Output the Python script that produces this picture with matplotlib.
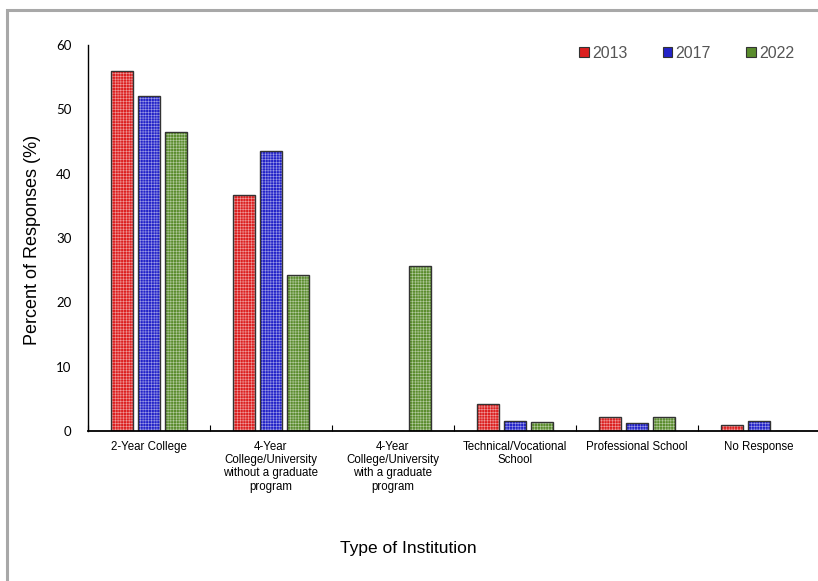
import matplotlib.pyplot as plt
import numpy as np
from matplotlib.patches import Rectangle, Patch

institutions = ['2-Year College',
                '4-Year\nCollege/University\nwithout a graduate\nprogram',
                '4-Year\nCollege/University\nwith a graduate\nprogram',
                'Technical/Vocational\nSchool',
                'Professional School',
                'No Response']
years = ['2013', '2017', '2022']
pct_2013 = [56.0, 36.7, 0.0, 4.2, 2.2, 1.0]
pct_2017 = [52.0, 43.5, 0.0, 1.5, 1.3, 1.5]
pct_2022 = [46.5, 24.3, 25.7, 1.4, 2.1, 0.0]

colors = ['#dc2020', '#2323c8', '#5a8c2d']
edge = '#333333'
dots = (1, 1, 1, 0.55)

plt.rcParams['font.family'] = ['Liberation Sans', 'DejaVu Sans']
plt.rcParams['hatch.linewidth'] = 0.4

fig = plt.figure(figsize=(8.18, 5.81), dpi=100)
ax = fig.add_axes([88 / 818, 1 - 431 / 581, 732 / 818, 386 / 581])

x = np.arange(len(institutions))
width = 0.18
offsets = [-0.22, 0.0, 0.22]
for vals, off, col in zip([pct_2013, pct_2017, pct_2022], offsets, colors):
    # coloured fill with a fine white dot grid, then a dark outline on top
    ax.bar(x + off, vals, width, color=col, edgecolor=dots, linewidth=0,
           hatch='++++++')
    ax.bar(x + off, vals, width, fill=False, edgecolor=edge, linewidth=1.0)

ax.set_xlim(-0.5, len(institutions) - 0.5)
ax.set_ylim(0, 60)
ax.set_yticks(np.arange(0, 61, 10))
ax.tick_params(axis='y', length=0, pad=12, labelsize=9.5)
for lbl in ax.get_yticklabels():
    lbl.set_fontfamily(['Lato', 'DejaVu Sans'])
ax.set_xticks(x)
ax.set_xticklabels(institutions, fontsize=8.3, linespacing=1.15)
ax.tick_params(axis='x', length=0, pad=7)
ax.set_xticks(np.arange(-0.5, len(institutions), 1.0), minor=True)
ax.tick_params(axis='x', which='minor', direction='in', length=4, width=0.8)

for side in ['top', 'right']:
    ax.spines[side].set_visible(False)
ax.spines['left'].set_linewidth(1.0)
ax.spines['bottom'].set_linewidth(1.3)

fig.text(33 / 818, 1 - 240 / 581, 'Percent of Responses (%)', fontsize=13,
         rotation=90, ha='center', va='center')
fig.text(408 / 818, 1 - 548 / 581, 'Type of Institution', fontsize=12.5,
         ha='center', va='center')

handles = [Patch(facecolor=c, edgecolor=edge, linewidth=0.8) for c in colors]
ax.legend(handles, years, loc='upper right', bbox_to_anchor=(0.984, 1.035),
          ncol=3, frameon=False, fontsize=11.5, handlelength=0.6,
          handleheight=0.6, handletextpad=0.2, columnspacing=2.2,
          labelcolor='#555555')

# grey border around the chart area
fig.add_artist(Rectangle((7 / 818, -0.1), 1.2, 1 - 10 / 581 + 0.1,
                         transform=fig.transFigure, fill=False,
                         edgecolor='#a8a8a8', linewidth=2.2))

fig.savefig('out.png', dpi=100)
